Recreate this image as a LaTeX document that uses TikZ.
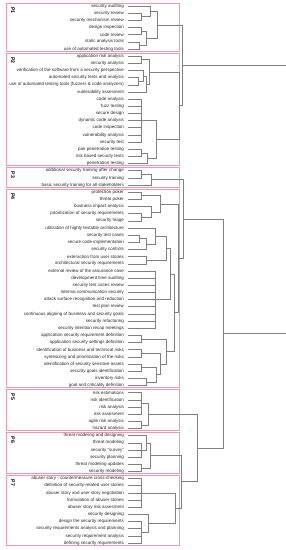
\documentclass[tikz,border=0pt]{standalone}
\usepackage{fontspec}
\setmainfont{Liberation Sans}
\definecolor{boxpink}{RGB}{242,150,170}
\begin{document}
\begin{tikzpicture}[x=1pt,y=-7.16pt,
  leaf/.style={anchor=east,inner xsep=0pt,inner ysep=0pt,outer xsep=3.5pt,font=\fontsize{4.5}{5}\selectfont,text=black!85},
  dl/.style={draw=black!50,line width=0.5pt},
  box/.style={draw=boxpink,line width=0.9pt},
  plab/.style={rotate=-90,anchor=west,font=\bfseries\fontsize{5.2}{6}\selectfont,inner sep=0pt}]
\useasboundingbox (0pt,0pt) rectangle (286pt,-550pt);
\begin{scope}[yshift=-6pt]
% boxes
\draw[box] (6,-0.42) rectangle (179.7,6.3);
\draw[box] (6,6.58) rectangle (179.7,22.3);
\draw[box] (6,22.58) rectangle (179.7,25.3);
\draw[box] (6,25.58) rectangle (179.7,53.3);
\draw[box] (6,53.58) rectangle (179.7,59.3);
\draw[box] (6,59.58) rectangle (179.7,65.3);
\draw[box] (6,65.58) rectangle (179.7,75.3);
\node[plab] (lp1) at (13,0.15) {P1};
\node[plab] (lp2) at (13,7.15) {P2};
\node[plab] (lp3) at (13,23.15) {P3};
\node[plab] (lp4) at (13,26.15) {P4};
\node[plab] (lp5) at (13,54.15) {P5};
\node[plab] (lp6) at (13,60.15) {P6};
\node[plab] (lp7) at (13,66.15) {P7};
% leaves
\foreach \i/\t in {0/security auditing,1/security review,2/security mechanism review,3/design inspection,4/code review,5/static analysis tools,6/use of automated testing tools,
7/application risk analysis,8/security analysis,9/verification of the software from a security perspective,10/automated security tests and analysis,11/use of automated testing tools (fuzzers \& code analyzers),12/vulnerability assesment,13/code analysis,14/fuzz testing,15/secure design,16/dynamic code analysis,17/code inspection,18/vulnerability analysis,19/security test,20/pair penetration testing,21/risk based security tests,22/penetration testing,
23/additional security training after change,24/security training,25/basic security training for all stakeholders,
26/protection poker,27/threat poker,28/business impact analysis,29/prioritization of security requirements,30/security triage,31/utilization of highly testable architecture,32/security test cases,33/secure code implementation,34/security controls,35/exteraction from user stories,36/architectural security requirements,37/external review of the assurance case,38/development time auditing,39/security test cases review,40/internal communication security,41/attack surface recognition and reduction,42/test plan review,43/continuous aligning of business and security goals,44/security refactoring,45/security intention recap meetings,46/application security requirement definition,47/application security settings definition,48/identification of business and technical risks,49/syntesizing and prioritization of the risks,50/identification of security sensitive assets,51/security goals identification,52/inventory risks,53/goal and criticality definition,
54/risk estimations,55/risk identification,56/risk analysis,57/risk assesment,58/agile risk analysis,59/hazard analysis,
60/threat modeling and designing,61/threat modeling,62/security ``survey'',63/security planning,64/threat modeling updates,65/security modeling,
66/abuser story - countermeasure cross-checking,67/definition of security-related user stories,68/abuser story and user story negotiation,69/formulation of abuser stories,70/abuser story risk assesment,71/security designing,72/design the security requirements,73/security requirements analysis and planning,74/security requirement analysis,75/defining security requirements}
  {\node[leaf] (a\i) at (127.5,\i) {\t};}
% merge points
\coordinate (m1a) at (141.7,1.5);
\coordinate (m1b) at (150,0.75);
\coordinate (m1c) at (141.7,3.5);
\coordinate (m1d) at (139,5.5);
\coordinate (m1e) at (146.7,4.5);
\coordinate (P1) at (157,2.625);
\coordinate (m2a) at (141.7,7.5);
\coordinate (m2b) at (138,10.5);
\coordinate (m2c) at (143,9.75);
\coordinate (m2d) at (146,10.875);
\coordinate (m2e) at (149,9.1875);
\coordinate (m2f) at (141.7,16);
\coordinate (m2g) at (141.7,20.5);
\coordinate (m2h) at (147,21.25);
\coordinate (m2i) at (156,18.625);
\coordinate (P2) at (179.7,13.906);
\coordinate (P12) at (182.5,8.266);
\coordinate (m3a) at (141.7,23.5);
\coordinate (P3) at (151.7,24.25);
\coordinate (m4a) at (141.7,26.5);
\coordinate (m4b) at (141.7,29.5);
\coordinate (m4c) at (151.7,28.75);
\coordinate (m4d) at (160.5,27.625);
\coordinate (m4e) at (139.3,32.5);
\coordinate (m4f) at (146.7,33.25);
\coordinate (m4g) at (155,32.125);
\coordinate (m4h) at (146.7,35.5);
\coordinate (m4i) at (166.5,33.8125);
\coordinate (m4j) at (155,41);
\coordinate (m4k) at (170,37.406);
\coordinate (m4l) at (141.7,46.5);
\coordinate (m4m) at (141.7,48.5);
\coordinate (m4n) at (141.7,50.5);
\coordinate (m4o) at (146.7,52.5);
\coordinate (m4p) at (156,51.5);
\coordinate (m4q) at (160.5,50);
\coordinate (m4r) at (166.5,48.25);
\coordinate (m4s) at (174.5,42.83);
\coordinate (P4) at (178.7,35.23);
\coordinate (P34) at (183.3,29.74);
\coordinate (m5a) at (141.7,55.5);
\coordinate (m5b) at (141.7,58.5);
\coordinate (P5) at (148.3,57);
\coordinate (m6a) at (141.7,62);
\coordinate (m6b) at (146,61);
\coordinate (m6c) at (141.7,64.5);
\coordinate (P6) at (150,62.75);
\coordinate (m7a) at (141.7,68);
\coordinate (m7b) at (141.7,73.5);
\coordinate (m7c) at (148.3,72.25);
\coordinate (P7) at (175.2,70.125);
\coordinate (P67) at (181.5,66.44);
\coordinate (P567) at (197.2,61.72);
\coordinate (P3to7) at (223.5,45.73);
\coordinate (root) at (285.8,27);
% connectors
\foreach \c/\m in {a1/m1a,a2/m1a,a0/m1b,m1a/m1b,a3/m1c,a4/m1c,a5/m1d,a6/m1d,m1c/m1e,m1d/m1e,m1b/P1,m1e/P1,
a7/m2a,a8/m2a,a10/m2b,a11/m2b,a9/m2c,m2b/m2c,m2c/m2d,a12/m2d,m2a/m2e,m2d/m2e,
a13/m2f,a14/m2f,a15/m2f,a16/m2f,a17/m2f,a18/m2f,a19/m2f,a20/m2g,a21/m2g,m2g/m2h,a22/m2h,m2f/m2i,m2h/m2i,m2e/P2,m2i/P2,P1/P12,P2/P12,
a23/m3a,a24/m3a,m3a/P3,a25/P3,
a26/m4a,a27/m4a,a29/m4b,a30/m4b,a28/m4c,m4b/m4c,m4a/m4d,m4c/m4d,a32/m4e,a33/m4e,m4e/m4f,a34/m4f,a31/m4g,m4f/m4g,a35/m4h,a36/m4h,m4g/m4i,m4h/m4i,
a37/m4j,a38/m4j,a39/m4j,a40/m4j,a41/m4j,a42/m4j,a43/m4j,a44/m4j,a45/m4j,m4i/m4k,m4j/m4k,
a46/m4l,a47/m4l,a48/m4m,a49/m4m,a50/m4n,a51/m4n,a52/m4o,a53/m4o,m4n/m4p,m4o/m4p,m4m/m4q,m4p/m4q,m4l/m4r,m4q/m4r,m4k/m4s,m4r/m4s,m4d/P4,m4s/P4,P3/P34,P4/P34,
a54/m5a,a55/m5a,a56/m5a,a57/m5a,a58/m5b,a59/m5b,m5a/P5,m5b/P5,
a61/m6a,a62/m6a,a63/m6a,a60/m6b,m6a/m6b,a64/m6c,a65/m6c,m6b/P6,m6c/P6,
a66/m7a,a67/m7a,a68/m7a,a69/m7a,a70/m7a,a72/m7b,a73/m7b,a74/m7b,a75/m7b,a71/m7c,m7b/m7c,m7a/P7,m7c/P7,
P6/P67,P7/P67,P5/P567,P67/P567,P34/P3to7,P567/P3to7,P12/root,P3to7/root}
  {\draw[dl] (\c) -| (\m);}
\end{scope}
\end{tikzpicture}
\end{document}
